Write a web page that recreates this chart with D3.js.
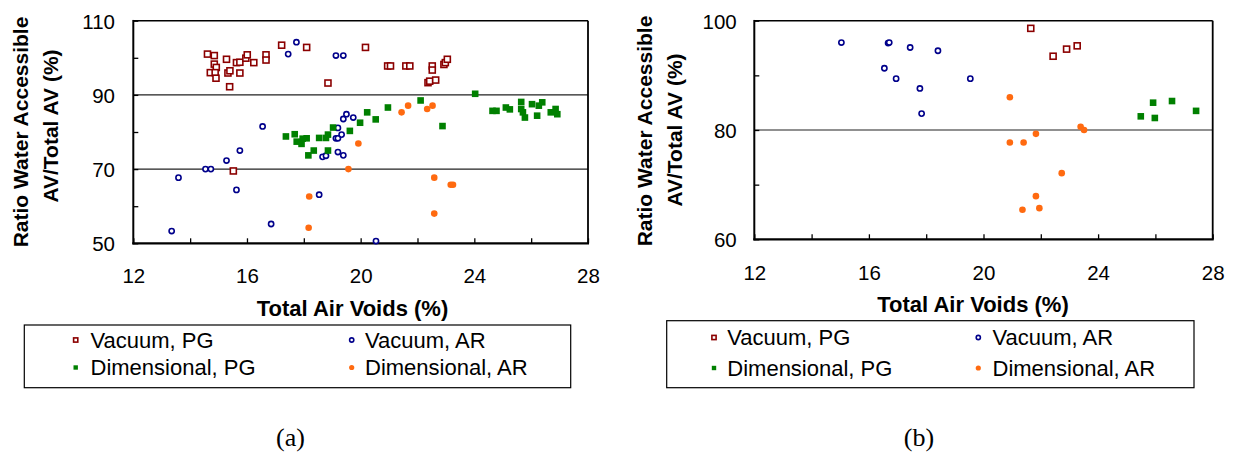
<!DOCTYPE html>
<html>
<head>
<meta charset="utf-8">
<script src="https://cdn.jsdelivr.net/npm/d3@7"></script>
<style>
  html, body { margin: 0; padding: 0; background: #fff; }
  svg { display: block; font-family: Arial, "Liberation Sans", sans-serif; }
</style>
</head>
<body>
<svg id="chart" width="1235" height="454"></svg>
<script>
// ---- Data: Total air voids (%) vs. ratio of water-accessible AV to total AV (%) ----

// Panel (a)
const vacuumPG_a = [
  [14.61,101.0],[14.85,100.6],[14.85,98.3],[14.92,97.4],[14.71,96.0],[14.88,96.0],[14.91,94.5],
  [15.28,99.6],[15.33,95.9],[15.40,96.5],[15.39,92.2],[15.63,98.7],[15.75,98.8],[15.75,95.9],
  [15.96,99.9],[16.01,100.8],[16.24,98.7],[16.67,100.8],[16.67,99.4],[15.52,69.5],[17.22,103.4],
  [18.10,102.8],[18.85,93.2],[20.17,102.8],[20.95,97.8],[21.05,97.8],[21.59,97.8],[21.73,97.8],
  [22.52,97.8],[22.52,96.7],[22.37,93.3],[22.43,93.7],[22.64,94.0],[22.93,98.2],[22.98,98.7],[23.05,99.6]
];
const vacuumAR_a = [
  [13.35,53.3],[13.59,67.7],[14.54,70.0],[14.73,70.0],[15.28,72.3],[15.63,64.4],[15.75,75.0],
  [16.55,81.5],[16.85,55.2],[17.45,101.0],[17.74,104.2],[18.54,63.1],[18.66,73.3],[18.78,73.6],
  [19.13,100.6],[19.39,100.6],[19.20,81.1],[19.13,78.3],[19.20,78.3],[19.33,79.3],[19.20,74.6],
  [19.39,73.7],[19.39,83.5],[19.50,84.8],[19.74,83.9],[20.54,50.6]
];
const dimensionalPG_a = [
  [17.37,78.8],[17.68,79.4],[17.75,77.4],[17.92,76.8],[17.96,78.2],[18.10,78.3],[18.16,73.7],
  [18.35,75.0],[18.54,78.4],[18.78,78.4],[18.85,79.3],[18.85,75.0],[19.03,81.2],[19.62,80.3],
  [19.98,82.5],[20.23,85.3],[20.53,83.4],[20.96,86.6],[22.11,88.5],[22.88,81.6],[24.03,90.3],
  [24.64,85.7],[24.78,85.7],[25.11,86.6],[25.25,86.1],[25.65,88.1],[25.65,86.2],[25.71,85.3],
  [25.78,83.9],[26.03,87.5],[26.21,84.4],[26.27,87.1],[26.39,88.0],[26.69,85.3],[26.86,86.2],[26.92,84.8]
];
const dimensionalAR_a = [
  [18.19,62.6],[18.17,54.2],[19.57,70.0],[19.92,76.9],[21.44,85.3],[21.67,87.1],[22.34,86.2],
  [22.53,87.1],[22.59,67.7],[22.59,58.0],[23.17,65.8],[23.25,65.8]
];

// Panel (b)
const vacuumPG_b = [[21.65,98.6],[22.43,93.5],[22.90,94.8],[23.27,95.4]];
const vacuumAR_b = [
  [15.04,96.0],[16.67,95.9],[16.71,96.0],[16.54,91.3],[16.95,89.4],[17.44,95.1],
  [17.78,87.6],[17.84,83.0],[18.41,94.5],[19.54,89.4]
];
const dimensionalPG_b = [[25.49,82.5],[25.92,85.0],[25.98,82.2],[26.58,85.3],[27.42,83.5]];
const dimensionalAR_b = [
  [20.92,86.0],[20.92,77.7],[21.40,77.7],[21.83,79.3],[23.39,80.6],[23.51,80.0],
  [22.73,72.1],[21.83,67.9],[21.36,65.4],[21.95,65.7]
];

// Axis ticks and labels
const xTickValues = [12,14,16,18,20,22,24,26,28];
const xTickLabels = [12,16,20,24,28];
const yTickValues_a = [50,60,70,80,90,100,110];
const yTickLabels_a = [50,70,90,110];
const yGrid_a = [70,90];
const yTickValues_b = [60,70,80,90,100];
const yTickLabels_b = [60,80,100];
const yGrid_b = [80];

const seriesNames = ["Vacuum, PG","Vacuum, AR","Dimensional, PG","Dimensional, AR"];

// ---- Drawing ----
const svg = d3.select("#chart");

const styles = [
  {shape:"square", fill:"#fff", stroke:"#8b0000", size:6, legendSize:4.2},
  {shape:"circle", fill:"#fff", stroke:"#00008b", size:5.2, legendSize:4.2},
  {shape:"square", fill:"#008000", stroke:"#008000", size:6.6, legendSize:4.4},
  {shape:"circle", fill:"#ff6a10", stroke:"#ff6a10", size:6.6, legendSize:5.2}
];

const panels = [
  {
    series:[vacuumPG_a, vacuumAR_a, dimensionalPG_a, dimensionalAR_a],
    plot:{l:133.3, r:588, t:20.7, b:243.3},
    yDomain:[50,110], yTicks:yTickValues_a, yLabels:yTickLabels_a, yGrid:yGrid_a,
    xLabelY:276, yLabelX:115,
    yTitle:{x1:20, y1:132, x2:50, y2:126},
    xTitle:{x:352.5, y:308},
    legend:{l:24.3, r:570.7, t:325, b:387.7, rows:[340, 367.5], cols:[{m:75.7, t:90.5}, {m:351.7, t:365}]},
    caption:{text:"(a)", x:290.5, y:437}
  },
  {
    series:[vacuumPG_b, vacuumAR_b, dimensionalPG_b, dimensionalAR_b],
    plot:{l:754.3, r:1212.7, t:20.7, b:239.3},
    yDomain:[60,100], yTicks:yTickValues_b, yLabels:yTickLabels_b, yGrid:yGrid_b,
    xLabelY:272.5, yLabelX:736.7,
    yTitle:{x1:644, y1:131, x2:674, y2:130},
    xTitle:{x:973, y:304.5},
    legend:{l:666.7, r:1194, t:320.7, b:387.7, rows:[337.5, 368], cols:[{m:714, t:727.3}, {m:978.3, t:992.5}]},
    caption:{text:"(b)", x:919, y:437}
  }
];

function drawMarker(g, st, cx, cy, size) {
  const hollow = st.fill === "#fff";
  if (st.shape === "square") {
    g.append("rect")
      .attr("x", cx - size/2).attr("y", cy - size/2)
      .attr("width", size).attr("height", size)
      .attr("fill", st.fill).attr("stroke", st.stroke)
      .attr("stroke-width", hollow ? 1.6 : 0);
  } else {
    g.append("circle")
      .attr("cx", cx).attr("cy", cy).attr("r", size/2)
      .attr("fill", st.fill).attr("stroke", st.stroke)
      .attr("stroke-width", hollow ? 1.6 : 0);
  }
}

panels.forEach(p => {
  const g = svg.append("g");
  const x = d3.scaleLinear().domain([12,28]).range([p.plot.l, p.plot.r]);
  const y = d3.scaleLinear().domain(p.yDomain).range([p.plot.b, p.plot.t]);

  // horizontal reference lines
  g.selectAll("line.grid").data(p.yGrid).join("line")
    .attr("class","grid")
    .attr("x1", p.plot.l).attr("x2", p.plot.r)
    .attr("y1", d => y(d)).attr("y2", d => y(d))
    .attr("stroke", "#222").attr("stroke-width", 1.1);

  // inward tick marks
  const yTickG = g.append("g").attr("transform", `translate(${p.plot.l},0)`)
    .call(d3.axisLeft(y).tickValues(p.yTicks).tickSize(-5).tickFormat(""));
  yTickG.select(".domain").remove();
  yTickG.selectAll("line").attr("stroke", "#000").attr("stroke-width", 1.3);

  const xTickG = g.append("g").attr("transform", `translate(0,${p.plot.b})`)
    .call(d3.axisBottom(x).tickValues(xTickValues).tickSize(-5).tickFormat(""));
  xTickG.select(".domain").remove();
  xTickG.selectAll("line").attr("stroke", "#000").attr("stroke-width", 1.3);

  // plot frame
  g.append("line").attr("x1", p.plot.l).attr("x2", p.plot.r).attr("y1", p.plot.t).attr("y2", p.plot.t)
    .attr("stroke", "#000").attr("stroke-width", 1.5);
  g.append("line").attr("x1", p.plot.r).attr("x2", p.plot.r).attr("y1", p.plot.t).attr("y2", p.plot.b)
    .attr("stroke", "#000").attr("stroke-width", 1.8);
  g.append("line").attr("x1", p.plot.l).attr("x2", p.plot.l).attr("y1", p.plot.t - 0.75).attr("y2", p.plot.b + 1)
    .attr("stroke", "#000").attr("stroke-width", 2);
  g.append("line").attr("x1", p.plot.l - 1).attr("x2", p.plot.r + 1).attr("y1", p.plot.b).attr("y2", p.plot.b)
    .attr("stroke", "#000").attr("stroke-width", 2.2);

  // y tick labels
  const yLabG = g.append("g").attr("transform", `translate(${p.yLabelX},0)`)
    .call(d3.axisLeft(y).tickValues(p.yLabels).tickSize(0).tickPadding(0));
  yLabG.select(".domain").remove();
  yLabG.selectAll("text").attr("font-size", 20.5).attr("font-family", "Arial, 'Liberation Sans', sans-serif")
    .attr("fill", "#000").attr("dy", "0.36em");

  // x tick labels
  const xLabG = g.append("g").attr("transform", `translate(0,${p.xLabelY})`)
    .call(d3.axisBottom(x).tickValues(xTickLabels).tickSize(0).tickPadding(0));
  xLabG.select(".domain").remove();
  xLabG.selectAll("text").attr("font-size", 20.5).attr("font-family", "Arial, 'Liberation Sans', sans-serif")
    .attr("fill", "#000").attr("y", 0).attr("dy", "0.36em");

  // axis titles
  g.append("text").attr("transform", `translate(${p.yTitle.x1},${p.yTitle.y1}) rotate(-90)`)
    .attr("text-anchor", "middle").attr("dominant-baseline", "central")
    .attr("font-size", 21).attr("font-weight", "bold").text("Ratio Water Accessible");
  g.append("text").attr("transform", `translate(${p.yTitle.x2},${p.yTitle.y2}) rotate(-90)`)
    .attr("text-anchor", "middle").attr("dominant-baseline", "central")
    .attr("font-size", 21).attr("font-weight", "bold").text("AV/Total AV (%)");
  g.append("text").attr("x", p.xTitle.x).attr("y", p.xTitle.y)
    .attr("text-anchor", "middle").attr("dominant-baseline", "central")
    .attr("font-size", 22).attr("font-weight", "bold").text("Total Air Voids (%)");

  // data points
  const marks = g.append("g");
  p.series.forEach((data, i) => {
    const st = styles[i];
    data.forEach(d => drawMarker(marks, st, x(d[0]), y(d[1]), st.size));
  });

  // legend
  const L = p.legend;
  g.append("rect").attr("x", L.l).attr("y", L.t).attr("width", L.r - L.l).attr("height", L.b - L.t)
    .attr("fill", "none").attr("stroke", "#000").attr("stroke-width", 1.2);
  seriesNames.forEach((name, i) => {
    const row = L.rows[Math.floor(i / 2)];
    const col = L.cols[i % 2];
    const st = styles[i];
    drawMarker(g, st, col.m, row, st.legendSize);
    g.append("text").attr("x", col.t).attr("y", row).attr("dominant-baseline", "central")
      .attr("font-size", 22).text(name);
  });

  // caption
  g.append("text").attr("x", p.caption.x).attr("y", p.caption.y)
    .attr("text-anchor", "middle").attr("dominant-baseline", "central")
    .attr("font-family", "'Times New Roman', 'Liberation Serif', serif")
    .attr("font-size", 26).text(p.caption.text);
});
</script>
</body>
</html>
